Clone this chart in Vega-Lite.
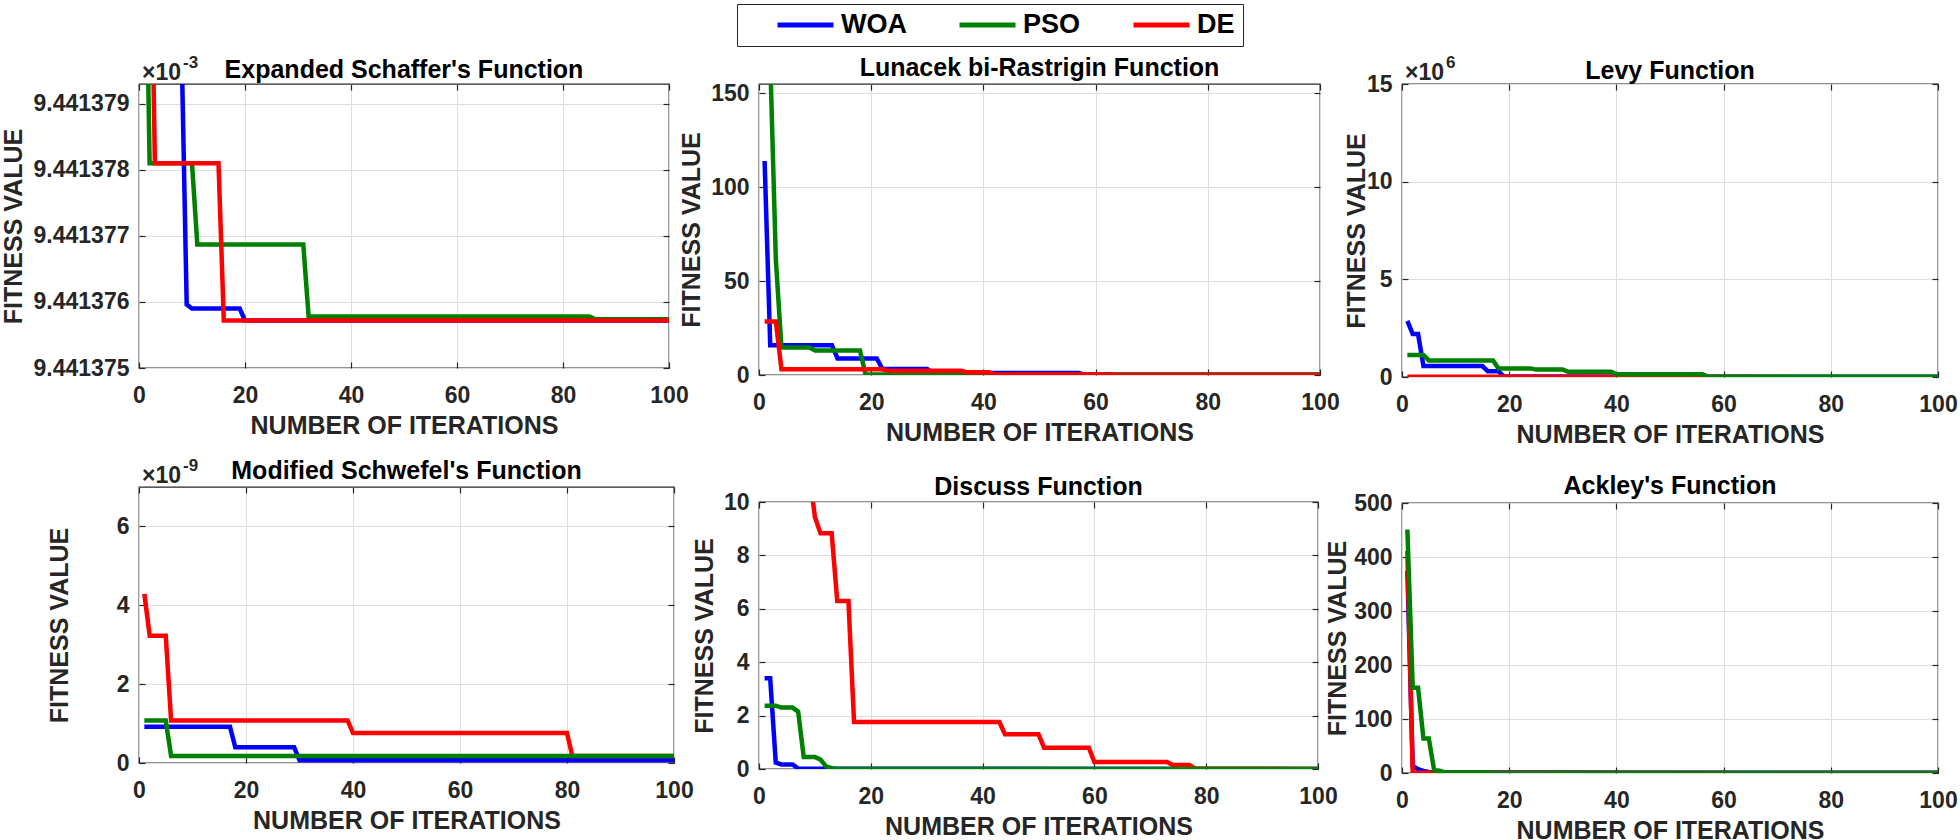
{
"$schema": "https://vega.github.io/schema/vega-lite/v6.json",
"padding": {"left": 0, "top": 3, "right": 0, "bottom": 0},
"background": "#ffffff",
"config": {
  "font": "Liberation Sans",
  "view": {"stroke": "#262626", "strokeWidth": 1.3},
  "text": {"fontSize": 23, "font": "Liberation Sans", "fontWeight": "bold"},
  "axis": {"domain": false, "grid": true, "gridColor": "#dedede", "gridWidth": 1, "ticks": true, "tickSize": -6, "tickColor": "#262626", "tickWidth": 1.2,
    "labelFont": "Liberation Sans", "labelFontSize": 23, "labelFontWeight": "bold", "labelColor": "#262626",
    "titleFont": "Liberation Sans", "titleFontSize": 25, "titleFontWeight": "bold", "titleColor": "#262626"},
  "axisX": {"labelPadding": 22, "titlePadding": 6, "labelFlush": false, "labelOverlap": false},
  "axisY": {"labelPadding": 16, "titlePadding": 5, "labelOverlap": false},
  "title": {"font": "Liberation Sans", "fontSize": 25, "fontWeight": "bold", "color": "#000000", "frame": "group", "baseline": "alphabetic", "anchor": "middle"},
  "legend": {"symbolType": "stroke", "symbolSize": 3136, "symbolStrokeWidth": 5, "clipHeight": 26, "labelFont": "Liberation Sans", "labelFontSize": 27, "labelFontWeight": "bold", "labelColor": "#000000", "labelOffset": 5, "symbolOffset": 30, "columnPadding": 20, "padding": 8, "strokeColor": "#262626", "fillColor": "#ffffff"}
},
"datasets": {"curves": [
{"panel":"Schaffer","alg":"WOA","iter":1,"value":0.00944138},
{"panel":"Schaffer","alg":"WOA","iter":8,"value":0.00944138},
{"panel":"Schaffer","alg":"WOA","iter":9,"value":0.00944137596},
{"panel":"Schaffer","alg":"WOA","iter":10,"value":0.0094413759},
{"panel":"Schaffer","alg":"WOA","iter":19,"value":0.0094413759},
{"panel":"Schaffer","alg":"WOA","iter":20,"value":0.00944137572},
{"panel":"Schaffer","alg":"WOA","iter":100,"value":0.00944137572},
{"panel":"Schaffer","alg":"PSO","iter":1,"value":0.009441383},
{"panel":"Schaffer","alg":"PSO","iter":2,"value":0.0094413781},
{"panel":"Schaffer","alg":"PSO","iter":10,"value":0.0094413781},
{"panel":"Schaffer","alg":"PSO","iter":11,"value":0.00944137687},
{"panel":"Schaffer","alg":"PSO","iter":31,"value":0.00944137687},
{"panel":"Schaffer","alg":"PSO","iter":32,"value":0.00944137578},
{"panel":"Schaffer","alg":"PSO","iter":85,"value":0.00944137578},
{"panel":"Schaffer","alg":"PSO","iter":86,"value":0.00944137574},
{"panel":"Schaffer","alg":"PSO","iter":100,"value":0.00944137574},
{"panel":"Schaffer","alg":"DE","iter":1,"value":0.009441383},
{"panel":"Schaffer","alg":"DE","iter":2,"value":0.009441383},
{"panel":"Schaffer","alg":"DE","iter":3,"value":0.0094413781},
{"panel":"Schaffer","alg":"DE","iter":15,"value":0.0094413781},
{"panel":"Schaffer","alg":"DE","iter":16,"value":0.00944137572},
{"panel":"Schaffer","alg":"DE","iter":100,"value":0.00944137572},

{"panel":"Lunacek","alg":"WOA","iter":1,"value":114},
{"panel":"Lunacek","alg":"WOA","iter":2,"value":15.9},
{"panel":"Lunacek","alg":"WOA","iter":13,"value":15.9},
{"panel":"Lunacek","alg":"WOA","iter":14,"value":8.8},
{"panel":"Lunacek","alg":"WOA","iter":21,"value":8.8},
{"panel":"Lunacek","alg":"WOA","iter":22,"value":3.2},
{"panel":"Lunacek","alg":"WOA","iter":30,"value":3.2},
{"panel":"Lunacek","alg":"WOA","iter":31,"value":1.0},
{"panel":"Lunacek","alg":"WOA","iter":57,"value":1.0},
{"panel":"Lunacek","alg":"WOA","iter":58,"value":0.2},
{"panel":"Lunacek","alg":"WOA","iter":100,"value":0.2},
{"panel":"Lunacek","alg":"PSO","iter":1,"value":400},
{"panel":"Lunacek","alg":"PSO","iter":2,"value":168},
{"panel":"Lunacek","alg":"PSO","iter":3,"value":61.6},
{"panel":"Lunacek","alg":"PSO","iter":4,"value":14.6},
{"panel":"Lunacek","alg":"PSO","iter":9,"value":14.6},
{"panel":"Lunacek","alg":"PSO","iter":10,"value":13.0},
{"panel":"Lunacek","alg":"PSO","iter":18,"value":13.0},
{"panel":"Lunacek","alg":"PSO","iter":19,"value":0.3},
{"panel":"Lunacek","alg":"PSO","iter":100,"value":0.3},
{"panel":"Lunacek","alg":"DE","iter":1,"value":28.5},
{"panel":"Lunacek","alg":"DE","iter":3,"value":28.5},
{"panel":"Lunacek","alg":"DE","iter":4,"value":3.0},
{"panel":"Lunacek","alg":"DE","iter":22,"value":3.0},
{"panel":"Lunacek","alg":"DE","iter":23,"value":2.2},
{"panel":"Lunacek","alg":"DE","iter":36,"value":2.2},
{"panel":"Lunacek","alg":"DE","iter":37,"value":1.5},
{"panel":"Lunacek","alg":"DE","iter":41,"value":1.5},
{"panel":"Lunacek","alg":"DE","iter":42,"value":0.3},
{"panel":"Lunacek","alg":"DE","iter":63,"value":0.3},
{"panel":"Lunacek","alg":"DE","iter":64,"value":0.05},
{"panel":"Lunacek","alg":"DE","iter":100,"value":0.05},

{"panel":"Levy","alg":"WOA","iter":1,"value":2870000},
{"panel":"Levy","alg":"WOA","iter":2,"value":2200000},
{"panel":"Levy","alg":"WOA","iter":3,"value":2200000},
{"panel":"Levy","alg":"WOA","iter":4,"value":560000},
{"panel":"Levy","alg":"WOA","iter":15,"value":560000},
{"panel":"Levy","alg":"WOA","iter":16,"value":300000},
{"panel":"Levy","alg":"WOA","iter":18,"value":300000},
{"panel":"Levy","alg":"WOA","iter":19,"value":20000},
{"panel":"Levy","alg":"WOA","iter":100,"value":10000},
{"panel":"Levy","alg":"DE","iter":1,"value":10000},
{"panel":"Levy","alg":"DE","iter":100,"value":0},
{"panel":"Levy","alg":"PSO","iter":1,"value":1130000},
{"panel":"Levy","alg":"PSO","iter":4,"value":1130000},
{"panel":"Levy","alg":"PSO","iter":5,"value":850000},
{"panel":"Levy","alg":"PSO","iter":17,"value":850000},
{"panel":"Levy","alg":"PSO","iter":18,"value":440000},
{"panel":"Levy","alg":"PSO","iter":24,"value":440000},
{"panel":"Levy","alg":"PSO","iter":25,"value":380000},
{"panel":"Levy","alg":"PSO","iter":30,"value":380000},
{"panel":"Levy","alg":"PSO","iter":31,"value":270000},
{"panel":"Levy","alg":"PSO","iter":39,"value":270000},
{"panel":"Levy","alg":"PSO","iter":40,"value":140000},
{"panel":"Levy","alg":"PSO","iter":56,"value":140000},
{"panel":"Levy","alg":"PSO","iter":57,"value":30000},
{"panel":"Levy","alg":"PSO","iter":58,"value":10000},
{"panel":"Levy","alg":"PSO","iter":100,"value":10000},

{"panel":"Schwefel","alg":"WOA","iter":1,"value":0.92e-9},
{"panel":"Schwefel","alg":"WOA","iter":17,"value":0.92e-9},
{"panel":"Schwefel","alg":"WOA","iter":18,"value":0.4e-9},
{"panel":"Schwefel","alg":"WOA","iter":29,"value":0.4e-9},
{"panel":"Schwefel","alg":"WOA","iter":30,"value":0.07e-9},
{"panel":"Schwefel","alg":"WOA","iter":100,"value":0.07e-9},
{"panel":"Schwefel","alg":"DE","iter":1,"value":4.29e-9},
{"panel":"Schwefel","alg":"DE","iter":2,"value":3.23e-9},
{"panel":"Schwefel","alg":"DE","iter":5,"value":3.23e-9},
{"panel":"Schwefel","alg":"DE","iter":6,"value":1.08e-9},
{"panel":"Schwefel","alg":"DE","iter":39,"value":1.08e-9},
{"panel":"Schwefel","alg":"DE","iter":40,"value":0.76e-9},
{"panel":"Schwefel","alg":"DE","iter":80,"value":0.76e-9},
{"panel":"Schwefel","alg":"DE","iter":81,"value":0.18e-9},
{"panel":"Schwefel","alg":"DE","iter":100,"value":0.18e-9},
{"panel":"Schwefel","alg":"PSO","iter":1,"value":1.08e-9},
{"panel":"Schwefel","alg":"PSO","iter":5,"value":1.08e-9},
{"panel":"Schwefel","alg":"PSO","iter":6,"value":0.18e-9},
{"panel":"Schwefel","alg":"PSO","iter":100,"value":0.18e-9},

{"panel":"Discuss","alg":"WOA","iter":1,"value":3.4},
{"panel":"Discuss","alg":"WOA","iter":2,"value":3.4},
{"panel":"Discuss","alg":"WOA","iter":3,"value":0.24},
{"panel":"Discuss","alg":"WOA","iter":4,"value":0.17},
{"panel":"Discuss","alg":"WOA","iter":6,"value":0.17},
{"panel":"Discuss","alg":"WOA","iter":7,"value":0.02},
{"panel":"Discuss","alg":"WOA","iter":100,"value":0},
{"panel":"Discuss","alg":"DE","iter":1,"value":11.5},
{"panel":"Discuss","alg":"DE","iter":9,"value":11.1},
{"panel":"Discuss","alg":"DE","iter":10,"value":9.44},
{"panel":"Discuss","alg":"DE","iter":11,"value":8.83},
{"panel":"Discuss","alg":"DE","iter":13,"value":8.83},
{"panel":"Discuss","alg":"DE","iter":14,"value":6.29},
{"panel":"Discuss","alg":"DE","iter":16,"value":6.29},
{"panel":"Discuss","alg":"DE","iter":17,"value":1.76},
{"panel":"Discuss","alg":"DE","iter":43,"value":1.76},
{"panel":"Discuss","alg":"DE","iter":44,"value":1.3},
{"panel":"Discuss","alg":"DE","iter":50,"value":1.3},
{"panel":"Discuss","alg":"DE","iter":51,"value":0.8},
{"panel":"Discuss","alg":"DE","iter":59,"value":0.8},
{"panel":"Discuss","alg":"DE","iter":60,"value":0.26},
{"panel":"Discuss","alg":"DE","iter":73,"value":0.26},
{"panel":"Discuss","alg":"DE","iter":74,"value":0.15},
{"panel":"Discuss","alg":"DE","iter":77,"value":0.15},
{"panel":"Discuss","alg":"DE","iter":78,"value":0.02},
{"panel":"Discuss","alg":"DE","iter":100,"value":0},
{"panel":"Discuss","alg":"PSO","iter":1,"value":2.37},
{"panel":"Discuss","alg":"PSO","iter":3,"value":2.37},
{"panel":"Discuss","alg":"PSO","iter":4,"value":2.3},
{"panel":"Discuss","alg":"PSO","iter":6,"value":2.3},
{"panel":"Discuss","alg":"PSO","iter":7,"value":2.15},
{"panel":"Discuss","alg":"PSO","iter":8,"value":0.45},
{"panel":"Discuss","alg":"PSO","iter":10,"value":0.45},
{"panel":"Discuss","alg":"PSO","iter":11,"value":0.35},
{"panel":"Discuss","alg":"PSO","iter":12,"value":0.1},
{"panel":"Discuss","alg":"PSO","iter":13,"value":0.03},
{"panel":"Discuss","alg":"PSO","iter":14,"value":0},
{"panel":"Discuss","alg":"PSO","iter":100,"value":0},

{"panel":"Ackley","alg":"WOA","iter":1,"value":374},
{"panel":"Ackley","alg":"WOA","iter":2,"value":13},
{"panel":"Ackley","alg":"WOA","iter":3,"value":7},
{"panel":"Ackley","alg":"WOA","iter":4,"value":4},
{"panel":"Ackley","alg":"WOA","iter":5,"value":2},
{"panel":"Ackley","alg":"WOA","iter":8,"value":1},
{"panel":"Ackley","alg":"WOA","iter":100,"value":0.5},
{"panel":"Ackley","alg":"DE","iter":1,"value":411},
{"panel":"Ackley","alg":"DE","iter":2,"value":0.5},
{"panel":"Ackley","alg":"DE","iter":100,"value":0},
{"panel":"Ackley","alg":"PSO","iter":1,"value":451},
{"panel":"Ackley","alg":"PSO","iter":2,"value":158},
{"panel":"Ackley","alg":"PSO","iter":3,"value":158},
{"panel":"Ackley","alg":"PSO","iter":4,"value":64},
{"panel":"Ackley","alg":"PSO","iter":5,"value":64},
{"panel":"Ackley","alg":"PSO","iter":6,"value":5},
{"panel":"Ackley","alg":"PSO","iter":7,"value":4},
{"panel":"Ackley","alg":"PSO","iter":8,"value":1},
{"panel":"Ackley","alg":"PSO","iter":16,"value":1},
{"panel":"Ackley","alg":"PSO","iter":17,"value":0},
{"panel":"Ackley","alg":"PSO","iter":100,"value":0}
]},
"spacing": -16,
"hconcat": [
 {"bounds": "flush", "spacing": 119, "vconcat": [
  {"width": 530, "height": 284,
   "title": {"text": "Expanded Schaffer's Function", "offset": -28.5},
   "data": {"name": "curves"},
   "transform": [{"filter": "datum.panel == 'Schaffer'"}],
   "resolve": {"axis": {"x": "independent", "y": "independent"}},
   "layer": [
    {"encoding": {
       "x": {"field": "iter", "type": "quantitative", "scale": {"domain": [0, 100], "nice": false}, "axis": {"values": [0, 20, 40, 60, 80, 100], "title": "NUMBER OF ITERATIONS"}},
       "y": {"field": "value", "type": "quantitative", "scale": {"domain": [0.009441375, 0.0094413793], "nice": false, "zero": false}, "axis": {"values": [0.009441375, 0.009441376, 0.009441377, 0.009441378, 0.009441379], "labelExpr": "format(datum.value*1000, '.6f')", "title": "FITNESS VALUE", "titlePadding": 7}},
       "color": {"field": "alg", "type": "nominal", "scale": {"domain": ["WOA", "PSO", "DE"], "range": ["#0000ff", "#008000", "#ff0000"]}, "legend": {"title": null, "orient": "none", "legendX": 598, "legendY": -80, "direction": "horizontal", "labelExpr": "datum.label == 'DE' ? 'DE\u00a0\u00a0\u00a0\u00a0' : datum.label"}}
     },
     "layer": [
       {"transform": [{"filter": "datum.alg == 'WOA'"}], "mark": {"type": "line", "strokeWidth": 4.5, "clip": true}},
       {"transform": [{"filter": "datum.alg == 'PSO'"}], "mark": {"type": "line", "strokeWidth": 4.5, "clip": true}},
       {"transform": [{"filter": "datum.alg == 'DE'"}], "mark": {"type": "line", "strokeWidth": 4.5, "clip": true}},
       {"transform": [{"filter": "datum.alg == 'WOA' && datum.iter == 1"}], "mark": {"type": "text", "align": "left", "baseline": "alphabetic", "dx": 3, "dy": -4},
        "encoding": {"x": {"datum": 0}, "y": {"datum": 0.0094413793}, "text": {"value": "×10"}, "size": {"value": 23}, "color": {"value": "#262626"}}},
       {"transform": [{"filter": "datum.alg == 'WOA' && datum.iter == 1"}], "mark": {"type": "text", "align": "left", "baseline": "alphabetic", "dx": 44, "dy": -16},
        "encoding": {"x": {"datum": 0}, "y": {"datum": 0.0094413793}, "text": {"value": "-3"}, "size": {"value": 17}, "color": {"value": "#262626"}}}
     ]},
    {"transform": [{"filter": "datum.alg == 'WOA' && datum.iter == 1"}], "mark": {"type": "point", "opacity": 0},
     "encoding": {
       "x": {"datum": 0, "type": "quantitative", "scale": {"domain": [0, 100], "nice": false}, "axis": {"orient": "top", "values": [0, 20, 40, 60, 80, 100], "labels": false, "grid": false, "title": null}},
       "y": {"datum": 0.009441375, "type": "quantitative", "scale": {"domain": [0.009441375, 0.0094413793], "nice": false, "zero": false}, "axis": {"orient": "right", "values": [0.009441375, 0.009441376, 0.009441377, 0.009441378, 0.009441379], "labels": false, "grid": false, "title": null}},
       "color": {"value": "#ffffff"}}}
   ]
  },
  {"width": 535, "height": 276,
   "title": {"text": "Modified Schwefel's Function", "offset": -27},
   "data": {"name": "curves"},
   "transform": [{"filter": "datum.panel == 'Schwefel'"}],
   "resolve": {"axis": {"x": "independent", "y": "independent"}},
   "layer": [
    {"encoding": {
       "x": {"field": "iter", "type": "quantitative", "scale": {"domain": [0, 100], "nice": false}, "axis": {"values": [0, 20, 40, 60, 80, 100], "title": "NUMBER OF ITERATIONS"}},
       "y": {"field": "value", "type": "quantitative", "scale": {"domain": [0, 7e-9], "nice": false}, "axis": {"values": [0, 2e-9, 4e-9, 6e-9], "labelExpr": "'' + round(datum.value*1e9)", "title": "FITNESS VALUE", "titlePadding": 44}},
       "color": {"field": "alg", "type": "nominal", "scale": {"domain": ["WOA", "PSO", "DE"], "range": ["#0000ff", "#008000", "#ff0000"]}, "legend": {"title": null, "orient": "none", "legendX": 598, "legendY": -80, "direction": "horizontal", "labelExpr": "datum.label == 'DE' ? 'DE\u00a0\u00a0\u00a0\u00a0' : datum.label"}}
     },
     "layer": [
       {"transform": [{"filter": "datum.alg == 'WOA'"}], "mark": {"type": "line", "strokeWidth": 4.5, "clip": true}},
       {"transform": [{"filter": "datum.alg == 'DE'"}], "mark": {"type": "line", "strokeWidth": 4.5, "clip": true}},
       {"transform": [{"filter": "datum.alg == 'PSO'"}], "mark": {"type": "line", "strokeWidth": 4.5, "clip": true}},
       {"transform": [{"filter": "datum.alg == 'WOA' && datum.iter == 1"}], "mark": {"type": "text", "align": "left", "baseline": "alphabetic", "dx": 3, "dy": -4},
        "encoding": {"x": {"datum": 0}, "y": {"datum": 7e-9}, "text": {"value": "×10"}, "size": {"value": 23}, "color": {"value": "#262626"}}},
       {"transform": [{"filter": "datum.alg == 'WOA' && datum.iter == 1"}], "mark": {"type": "text", "align": "left", "baseline": "alphabetic", "dx": 44, "dy": -16},
        "encoding": {"x": {"datum": 0}, "y": {"datum": 7e-9}, "text": {"value": "-9"}, "size": {"value": 17}, "color": {"value": "#262626"}}}
     ]},
    {"transform": [{"filter": "datum.alg == 'WOA' && datum.iter == 1"}], "mark": {"type": "point", "opacity": 0},
     "encoding": {
       "x": {"datum": 0, "type": "quantitative", "scale": {"domain": [0, 100], "nice": false}, "axis": {"orient": "top", "values": [0, 20, 40, 60, 80, 100], "labels": false, "grid": false, "title": null}},
       "y": {"datum": 0, "type": "quantitative", "scale": {"domain": [0, 7e-9], "nice": false}, "axis": {"orient": "right", "values": [0, 2e-9, 4e-9, 6e-9], "labels": false, "grid": false, "title": null}},
       "color": {"value": "#ffffff"}}}
   ]
  }
 ]},
 {"bounds": "flush", "spacing": 127, "vconcat": [
  {"width": 561, "height": 291,
   "title": {"text": "Lunacek bi-Rastrigin Function", "offset": 1.5},
   "data": {"name": "curves"},
   "transform": [{"filter": "datum.panel == 'Lunacek'"}],
   "resolve": {"axis": {"x": "independent", "y": "independent"}},
   "layer": [
    {"encoding": {
       "x": {"field": "iter", "type": "quantitative", "scale": {"domain": [0, 100], "nice": false}, "axis": {"values": [0, 20, 40, 60, 80, 100], "title": "NUMBER OF ITERATIONS"}},
       "y": {"field": "value", "type": "quantitative", "scale": {"domain": [0, 155], "nice": false}, "axis": {"values": [0, 50, 100, 150], "title": "FITNESS VALUE", "titlePadding": 6}},
       "color": {"field": "alg", "type": "nominal", "scale": {"domain": ["WOA", "PSO", "DE"], "range": ["#0000ff", "#008000", "#ff0000"]}, "legend": {"title": null, "orient": "none", "legendX": 598, "legendY": -80, "direction": "horizontal", "labelExpr": "datum.label == 'DE' ? 'DE\u00a0\u00a0\u00a0\u00a0' : datum.label"}}
     },
     "layer": [
       {"transform": [{"filter": "datum.alg == 'WOA'"}], "mark": {"type": "line", "strokeWidth": 4.5, "clip": true}},
       {"transform": [{"filter": "datum.alg == 'PSO'"}], "mark": {"type": "line", "strokeWidth": 4.5, "clip": true}},
       {"transform": [{"filter": "datum.alg == 'DE'"}], "mark": {"type": "line", "strokeWidth": 4.5, "clip": true}}
     ]},
    {"transform": [{"filter": "datum.alg == 'WOA' && datum.iter == 1"}], "mark": {"type": "point", "opacity": 0},
     "encoding": {
       "x": {"datum": 0, "type": "quantitative", "scale": {"domain": [0, 100], "nice": false}, "axis": {"orient": "top", "values": [0, 20, 40, 60, 80, 100], "labels": false, "grid": false, "title": null}},
       "y": {"datum": 0, "type": "quantitative", "scale": {"domain": [0, 155], "nice": false}, "axis": {"orient": "right", "values": [0, 50, 100, 150], "labels": false, "grid": false, "title": null}},
       "color": {"value": "#ffffff"}}}
   ]
  },
  {"width": 559, "height": 267,
   "title": {"text": "Discuss Function", "offset": -8.5},
   "data": {"name": "curves"},
   "transform": [{"filter": "datum.panel == 'Discuss'"}],
   "resolve": {"axis": {"x": "independent", "y": "independent"}},
   "layer": [
    {"encoding": {
       "x": {"field": "iter", "type": "quantitative", "scale": {"domain": [0, 100], "nice": false}, "axis": {"values": [0, 20, 40, 60, 80, 100], "title": "NUMBER OF ITERATIONS"}},
       "y": {"field": "value", "type": "quantitative", "scale": {"domain": [0, 10], "nice": false}, "axis": {"values": [0, 2, 4, 6, 8, 10], "title": "FITNESS VALUE", "titlePadding": 6}},
       "color": {"field": "alg", "type": "nominal", "scale": {"domain": ["WOA", "PSO", "DE"], "range": ["#0000ff", "#008000", "#ff0000"]}, "legend": {"title": null, "orient": "none", "legendX": 598, "legendY": -80, "direction": "horizontal", "labelExpr": "datum.label == 'DE' ? 'DE\u00a0\u00a0\u00a0\u00a0' : datum.label"}}
     },
     "layer": [
       {"transform": [{"filter": "datum.alg == 'WOA'"}], "mark": {"type": "line", "strokeWidth": 4.5, "clip": true}},
       {"transform": [{"filter": "datum.alg == 'DE'"}], "mark": {"type": "line", "strokeWidth": 4.5, "clip": true}},
       {"transform": [{"filter": "datum.alg == 'PSO'"}], "mark": {"type": "line", "strokeWidth": 4.5, "clip": true}}
     ]},
    {"transform": [{"filter": "datum.alg == 'WOA' && datum.iter == 1"}], "mark": {"type": "point", "opacity": 0},
     "encoding": {
       "x": {"datum": 0, "type": "quantitative", "scale": {"domain": [0, 100], "nice": false}, "axis": {"orient": "top", "values": [0, 20, 40, 60, 80, 100], "labels": false, "grid": false, "title": null}},
       "y": {"datum": 0, "type": "quantitative", "scale": {"domain": [0, 10], "nice": false}, "axis": {"orient": "right", "values": [0, 2, 4, 6, 8, 10], "labels": false, "grid": false, "title": null}},
       "color": {"value": "#ffffff"}}}
   ]
  }
 ]},
 {"bounds": "flush", "spacing": 126, "vconcat": [
  {"width": 536, "height": 293,
   "title": {"text": "Levy Function", "offset": -29.5},
   "data": {"name": "curves"},
   "transform": [{"filter": "datum.panel == 'Levy'"}],
   "resolve": {"axis": {"x": "independent", "y": "independent"}},
   "layer": [
    {"encoding": {
       "x": {"field": "iter", "type": "quantitative", "scale": {"domain": [0, 100], "nice": false}, "axis": {"values": [0, 20, 40, 60, 80, 100], "title": "NUMBER OF ITERATIONS"}},
       "y": {"field": "value", "type": "quantitative", "scale": {"domain": [0, 15000000], "nice": false}, "axis": {"values": [0, 5000000, 10000000, 15000000], "labelExpr": "'' + round(datum.value/1000000)", "title": "FITNESS VALUE", "titlePadding": -3}},
       "color": {"field": "alg", "type": "nominal", "scale": {"domain": ["WOA", "PSO", "DE"], "range": ["#0000ff", "#008000", "#ff0000"]}, "legend": {"title": null, "orient": "none", "legendX": 598, "legendY": -80, "direction": "horizontal", "labelExpr": "datum.label == 'DE' ? 'DE\u00a0\u00a0\u00a0\u00a0' : datum.label"}}
     },
     "layer": [
       {"transform": [{"filter": "datum.alg == 'WOA'"}], "mark": {"type": "line", "strokeWidth": 4.5, "clip": true}},
       {"transform": [{"filter": "datum.alg == 'DE'"}], "mark": {"type": "line", "strokeWidth": 4.5, "clip": true}},
       {"transform": [{"filter": "datum.alg == 'PSO'"}], "mark": {"type": "line", "strokeWidth": 4.5, "clip": true}},
       {"transform": [{"filter": "datum.alg == 'WOA' && datum.iter == 1"}], "mark": {"type": "text", "align": "left", "baseline": "alphabetic", "dx": 3, "dy": -4},
        "encoding": {"x": {"datum": 0}, "y": {"datum": 15000000}, "text": {"value": "×10"}, "size": {"value": 23}, "color": {"value": "#262626"}}},
       {"transform": [{"filter": "datum.alg == 'WOA' && datum.iter == 1"}], "mark": {"type": "text", "align": "left", "baseline": "alphabetic", "dx": 44, "dy": -16},
        "encoding": {"x": {"datum": 0}, "y": {"datum": 15000000}, "text": {"value": "6"}, "size": {"value": 17}, "color": {"value": "#262626"}}}
     ]},
    {"transform": [{"filter": "datum.alg == 'WOA' && datum.iter == 1"}], "mark": {"type": "point", "opacity": 0},
     "encoding": {
       "x": {"datum": 0, "type": "quantitative", "scale": {"domain": [0, 100], "nice": false}, "axis": {"orient": "top", "values": [0, 20, 40, 60, 80, 100], "labels": false, "grid": false, "title": null}},
       "y": {"datum": 0, "type": "quantitative", "scale": {"domain": [0, 15000000], "nice": false}, "axis": {"orient": "right", "values": [0, 5000000, 10000000, 15000000], "labels": false, "grid": false, "title": null}},
       "color": {"value": "#ffffff"}}}
   ]
  },
  {"width": 536, "height": 270,
   "title": {"text": "Ackley's Function", "offset": -7},
   "data": {"name": "curves"},
   "transform": [{"filter": "datum.panel == 'Ackley'"}],
   "resolve": {"axis": {"x": "independent", "y": "independent"}},
   "layer": [
    {"encoding": {
       "x": {"field": "iter", "type": "quantitative", "scale": {"domain": [0, 100], "nice": false}, "axis": {"values": [0, 20, 40, 60, 80, 100], "title": "NUMBER OF ITERATIONS"}},
       "y": {"field": "value", "type": "quantitative", "scale": {"domain": [0, 500], "nice": false}, "axis": {"values": [0, 100, 200, 300, 400, 500], "title": "FITNESS VALUE", "titlePadding": 3}},
       "color": {"field": "alg", "type": "nominal", "scale": {"domain": ["WOA", "PSO", "DE"], "range": ["#0000ff", "#008000", "#ff0000"]}, "legend": {"title": null, "orient": "none", "legendX": 598, "legendY": -80, "direction": "horizontal", "labelExpr": "datum.label == 'DE' ? 'DE\u00a0\u00a0\u00a0\u00a0' : datum.label"}}
     },
     "layer": [
       {"transform": [{"filter": "datum.alg == 'WOA'"}], "mark": {"type": "line", "strokeWidth": 4.5, "clip": true}},
       {"transform": [{"filter": "datum.alg == 'DE'"}], "mark": {"type": "line", "strokeWidth": 4.5, "clip": true}},
       {"transform": [{"filter": "datum.alg == 'PSO'"}], "mark": {"type": "line", "strokeWidth": 4.5, "clip": true}}
     ]},
    {"transform": [{"filter": "datum.alg == 'WOA' && datum.iter == 1"}], "mark": {"type": "point", "opacity": 0},
     "encoding": {
       "x": {"datum": 0, "type": "quantitative", "scale": {"domain": [0, 100], "nice": false}, "axis": {"orient": "top", "values": [0, 20, 40, 60, 80, 100], "labels": false, "grid": false, "title": null}},
       "y": {"datum": 0, "type": "quantitative", "scale": {"domain": [0, 500], "nice": false}, "axis": {"orient": "right", "values": [0, 100, 200, 300, 400, 500], "labels": false, "grid": false, "title": null}},
       "color": {"value": "#ffffff"}}}
   ]
  }
 ]}
]
}
